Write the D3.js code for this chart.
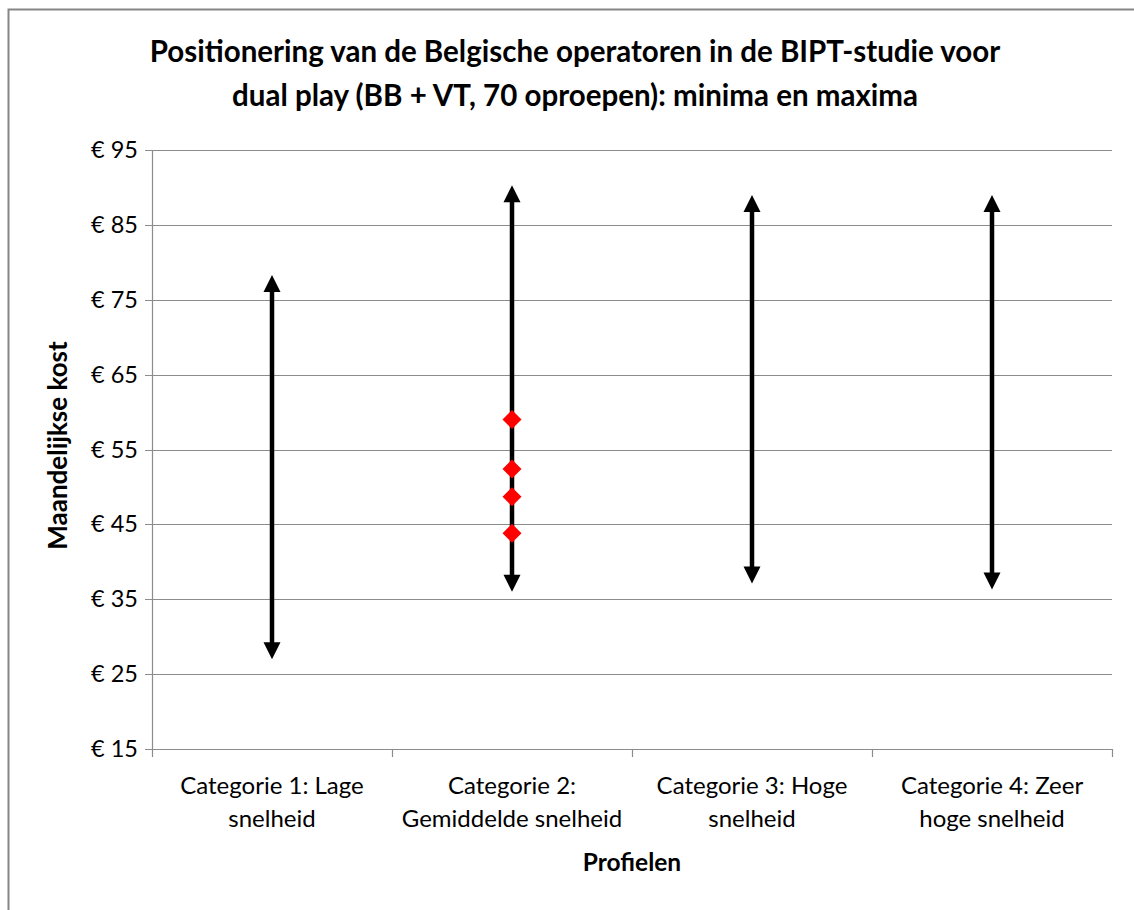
<!DOCTYPE html>
<html>
<head>
<meta charset="utf-8">
<script src="https://cdn.jsdelivr.net/npm/d3@7"></script>
<style>
  body { margin: 0; background: #fff; }
  svg { font-family: Lato, "Open Sans", sans-serif; }
</style>
</head>
<body>
<svg width="1134" height="910"></svg>
<script>
// data
var categories = ["Categorie 1: Lage snelheid", "Categorie 2: Gemiddelde snelheid", "Categorie 3: Hoge snelheid", "Categorie 4: Zeer hoge snelheid"];
var catLines = [["Categorie 1: Lage", "snelheid"], ["Categorie 2:", "Gemiddelde snelheid"], ["Categorie 3: Hoge", "snelheid"], ["Categorie 4: Zeer", "hoge snelheid"]];
var minima = [27, 36, 37.1, 36.3];
var maxima = [78.3, 90.3, 89, 89];
var operatorCat = [1, 1, 1, 1];
var operatorValues = [59, 52.4, 48.7, 43.8];
var yTicks = [15, 25, 35, 45, 55, 65, 75, 85, 95];

var svg = d3.select("svg"),
    margin = { top: 150, right: 22, bottom: 161, left: 152 },
    width = +svg.attr("width") - margin.left - margin.right,
    height = +svg.attr("height") - margin.top - margin.bottom;

var headLen = 17, headHalf = 8.5; // pijlpunt

// rand van het grafiekgebied (alleen boven en links zichtbaar)
svg.append("rect")
    .attr("x", 8.5).attr("y", 9.5)
    .attr("width", 1140).attr("height", 920)
    .attr("fill", "none").attr("stroke", "#868686").attr("stroke-width", 2);

var x = d3.scaleBand().domain(categories).range([0, width]);
var y = d3.scaleLinear().domain([15, 95]).range([height, 0]);

var g = svg.append("g")
    .attr("transform", "translate(" + margin.left + "," + margin.top + ")");

// horizontale rasterlijnen
g.selectAll(".grid")
    .data(yTicks)
    .enter().append("line")
    .attr("x1", -7).attr("x2", width)
    .attr("y1", function (d) { return Math.round(y(d)) + 0.5; })
    .attr("y2", function (d) { return Math.round(y(d)) + 0.5; })
    .attr("stroke", "#8c8c8c").attr("stroke-width", 1.2);

// y-as
var yAxis = g.append("g")
    .call(d3.axisLeft(y).tickValues(yTicks).tickSize(0).tickPadding(14)
        .tickFormat(function (d) { return "€ " + d; }));
yAxis.select(".domain").attr("stroke", "#8c8c8c").attr("stroke-width", 1.2);
yAxis.selectAll("text").attr("font-size", 23.5).attr("fill", "#000")
    .style("font-family", "Lato, sans-serif");

// x-as
g.append("line")
    .attr("x1", 0).attr("x2", width)
    .attr("y1", height + 0.5).attr("y2", height + 0.5)
    .attr("stroke", "#8c8c8c").attr("stroke-width", 1.2);
g.selectAll(".xtick")
    .data(d3.range(categories.length + 1))
    .enter().append("line")
    .attr("x1", function (i) { return Math.round(i * x.step()) + 0.5; })
    .attr("x2", function (i) { return Math.round(i * x.step()) + 0.5; })
    .attr("y1", height).attr("y2", height + 8)
    .attr("stroke", "#8c8c8c").attr("stroke-width", 1.2);

var labels = g.selectAll(".xlabel")
    .data(categories)
    .enter().append("text")
    .attr("text-anchor", "middle")
    .attr("font-size", 24)
    .attr("x", function (d) { return x(d) + x.bandwidth() / 2; })
    .attr("y", height + 45);
labels.selectAll("tspan")
    .data(function (d, i) { return catLines[i]; })
    .enter().append("tspan")
    .attr("x", function () { return d3.select(this.parentNode).attr("x"); })
    .attr("dy", function (d, i) { return i ? 33 : 0; })
    .text(function (d) { return d; });

// pijlen min - max
var cx = function (d) { return x(d) + x.bandwidth() / 2; };
g.selectAll(".range")
    .data(categories)
    .enter().append("line")
    .attr("x1", cx).attr("x2", cx)
    .attr("y1", function (d, i) { return y(maxima[i]) + headLen - 1; })
    .attr("y2", function (d, i) { return y(minima[i]) - headLen + 1; })
    .attr("stroke", "#000").attr("stroke-width", 4.5);
g.selectAll(".headUp")
    .data(categories)
    .enter().append("path")
    .attr("d", function (d, i) {
        var px = cx(d), py = y(maxima[i]);
        return "M" + px + "," + py + "L" + (px + headHalf) + "," + (py + headLen) +
            "L" + (px - headHalf) + "," + (py + headLen) + "Z";
    })
    .attr("fill", "#000");
g.selectAll(".headDown")
    .data(categories)
    .enter().append("path")
    .attr("d", function (d, i) {
        var px = cx(d), py = y(minima[i]);
        return "M" + px + "," + py + "L" + (px + headHalf) + "," + (py - headLen) +
            "L" + (px - headHalf) + "," + (py - headLen) + "Z";
    })
    .attr("fill", "#000");

// operatoren (rode ruiten)
g.selectAll(".op")
    .data(operatorValues)
    .enter().append("path")
    .attr("d", "M0,-9.5L9.5,0L0,9.5L-9.5,0Z")
    .attr("transform", function (d, i) {
        return "translate(" + cx(categories[operatorCat[i]]) + "," + y(d) + ")";
    })
    .attr("fill", "#ff0000");

// titels
var title = svg.append("text")
    .attr("text-anchor", "middle")
    .attr("font-size", 29.5).attr("font-weight", "bold");
title.append("tspan").attr("x", 575).attr("y", 62)
    .text("Positionering van de Belgische operatoren in de BIPT-studie voor");
title.append("tspan").attr("x", 575).attr("y", 106)
    .text("dual play (BB + VT, 70 oproepen): minima en maxima");

svg.append("text")
    .attr("transform", "translate(67," + (margin.top + height / 2 - 4) + ") rotate(-90)")
    .attr("text-anchor", "middle")
    .attr("font-size", 26).attr("font-weight", "bold")
    .text("Maandelijkse kost");

svg.append("text")
    .attr("x", margin.left + width / 2).attr("y", 871)
    .attr("text-anchor", "middle")
    .attr("font-size", 24.5).attr("font-weight", "bold")
    .text("Profielen");
</script>
</body>
</html>
